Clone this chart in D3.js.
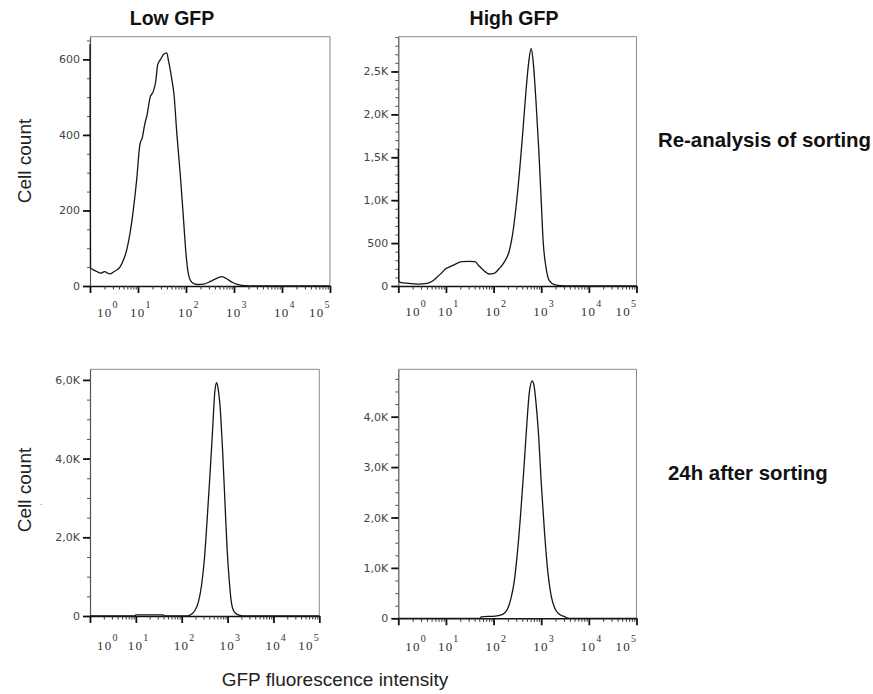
<!DOCTYPE html>
<html>
<head>
<meta charset="utf-8">
<script src="https://cdn.jsdelivr.net/npm/d3@7"></script>
<style>
  body { margin: 0; background: #fff; }
  svg { display: block; }
</style>
</head>
<body>
<svg id="chart"></svg>
<script>
// histogram data: [log10 GFP intensity, cell count]
var lowSorted = [
  [0, 640], [0.01, 48], [0.04, 45], [0.13, 39], [0.23, 34], [0.30, 38], [0.41, 32], [0.51, 39],
  [0.62, 49], [0.69, 67], [0.76, 93], [0.83, 137], [0.90, 199], [0.97, 278], [1.04, 375],
  [1.09, 393], [1.14, 428], [1.19, 454], [1.25, 498], [1.32, 516], [1.37, 542], [1.41, 586],
  [1.47, 600], [1.53, 613], [1.60, 617], [1.63, 600], [1.70, 551], [1.75, 507], [1.81, 402],
  [1.88, 296], [1.95, 173], [2.00, 85], [2.05, 32], [2.12, 10], [2.23, 4], [2.37, 5],
  [2.51, 12], [2.65, 21], [2.75, 25], [2.86, 18], [2.96, 10], [3.07, 4], [3.21, 1], [3.4, 0], [5, 0]
]
var highSorted = [
  [0, 1600], [0.01, 60], [0.04, 43], [0.21, 31], [0.42, 23], [0.60, 31], [0.71, 55], [0.81, 101],
  [0.92, 159], [0.99, 198], [1.09, 225], [1.20, 256], [1.34, 283], [1.48, 287], [1.61, 283],
  [1.69, 236], [1.80, 178], [1.90, 140], [2.01, 147], [2.11, 198], [2.22, 276], [2.33, 411],
  [2.40, 605], [2.47, 915], [2.54, 1303], [2.61, 1768], [2.68, 2271], [2.74, 2620], [2.79, 2768],
  [2.83, 2620], [2.89, 2155], [2.95, 1574], [3.00, 992], [3.04, 527], [3.10, 217], [3.17, 62],
  [3.28, 15], [3.42, 3], [3.6, 0], [5, 0]
]
var low24h = [
  [0, 0], [0.98, 0], [1.0, 30], [1.6, 30], [1.62, 0], [2.1, 0], [2.17, 17], [2.28, 127], [2.36, 338],
  [2.43, 762], [2.50, 1525], [2.55, 2371], [2.61, 3473], [2.67, 4658], [2.72, 5674], [2.76, 5928],
  [2.79, 5801], [2.83, 5420], [2.89, 4236], [2.94, 2965], [2.99, 1695], [3.04, 846], [3.09, 297],
  [3.16, 84], [3.27, 17], [3.38, 0], [5, 0]
]
var high24h = [
  [0, 0], [1.72, 0], [1.74, 30], [2.04, 45], [2.19, 79], [2.29, 178], [2.36, 377], [2.43, 706],
  [2.50, 1302], [2.57, 2095], [2.64, 3022], [2.70, 3881], [2.75, 4476], [2.81, 4708], [2.85, 4609],
  [2.89, 4278], [2.95, 3551], [3.00, 2690], [3.07, 1698], [3.14, 905], [3.21, 442], [3.28, 210],
  [3.38, 79], [3.49, 32], [3.59, 0], [5, 0]
]

// axis ticks
var xExponents = [0, 1, 2, 3, 4, 5]
var lowSortedTicks = [0, 200, 400, 600]
var lowSortedLabels = ['0', '200', '400', '600']
var highSortedTicks = [0, 500, 1000, 1500, 2000, 2500]
var highSortedLabels = ['0', '500', '1,0K', '1,5K', '2,0K', '2,5K']
var low24hTicks = [0, 2000, 4000, 6000]
var low24hLabels = ['0', '2,0K', '4,0K', '6,0K']
var high24hTicks = [0, 1000, 2000, 3000, 4000]
var high24hLabels = ['0', '1,0K', '2,0K', '3,0K', '4,0K']

var columnTitles = ['Low GFP', 'High GFP']
var rowTitles = ['Re-analysis of sorting', '24h after sorting']

var svg = d3.select('#chart').attr('width', 873).attr('height', 694)

// panel boxes
var panels = [
  {data: lowSorted, yMax: 660, ticks: lowSortedTicks, labels: lowSortedLabels, minor: 50,
    left: 90, right: 330, top: 36.7, bottom: 286, labelDy: 30.5},
  {data: highSorted, yMax: 2905, ticks: highSortedTicks, labels: highSortedLabels, minor: 100,
    left: 398.3, right: 636.5, top: 36.7, bottom: 286, labelDy: 30},
  {data: low24h, yMax: 6270, ticks: low24hTicks, labels: low24hLabels, minor: 500,
    left: 90, right: 319.3, top: 369.3, bottom: 616, labelDy: 33.5},
  {data: high24h, yMax: 4940, ticks: high24hTicks, labels: high24hLabels, minor: 250,
    left: 398.3, right: 636.5, top: 369.3, bottom: 618.3, labelDy: 33}
]

panels.forEach(function(p) {
  var x = d3.scaleLog().domain([1, 1e5]).range([p.left, p.right])
  var y = d3.scaleLinear().domain([0, p.yMax]).range([p.bottom, p.top])
  var g = svg.append('g')

  // top and right frame
  g.append('path')
    .attr('d', 'M' + p.left + ',' + p.top + 'H' + p.right + 'V' + p.bottom)
    .attr('fill', 'none')
    .attr('stroke', '#8a8a8a')
    .attr('stroke-width', 1)

  // y axis minor + major
  var minorVals = d3.range(0, p.yMax, p.minor)
  g.append('g')
    .attr('transform', 'translate(' + p.left + ',0)')
    .call(d3.axisLeft(y).tickValues(minorVals).tickSize(3).tickSizeOuter(0).tickFormat(''))
    .call(function(a) {
      a.select('.domain').attr('stroke', '#555').attr('stroke-width', 1.2)
      a.selectAll('.tick line').attr('stroke', '#555').attr('stroke-width', 1)
    })

  g.append('g')
    .attr('transform', 'translate(' + p.left + ',0)')
    .call(d3.axisLeft(y).tickValues(p.ticks).tickSize(7).tickSizeOuter(0)
      .tickFormat(function(d, i) { return p.labels[i] }))
    .call(function(a) {
      a.select('.domain').remove()
      a.selectAll('.tick line').attr('stroke', '#111').attr('stroke-width', 1.8)
      a.selectAll('.tick text')
        .attr('x', -10)
        .attr('font-family', 'DejaVu Sans, sans-serif')
        .attr('font-size', 11)
        .attr('fill', '#444')
    })

  // x axis minor + major
  var minorX = []
  for (var k = 0; k < 5; k++) {
    for (var m = 2; m < 10; m++) minorX.push(m * Math.pow(10, k))
  }
  g.append('g')
    .attr('transform', 'translate(0,' + p.bottom + ')')
    .call(d3.axisBottom(x).tickValues(minorX).tickSize(3.5).tickSizeOuter(0).tickFormat(''))
    .call(function(a) {
      a.select('.domain').attr('stroke', '#111').attr('stroke-width', 1.6)
      a.selectAll('.tick line').attr('stroke', '#333').attr('stroke-width', 1)
    })

  var xMajor = g.append('g')
    .attr('transform', 'translate(0,' + p.bottom + ')')
    .call(d3.axisBottom(x).tickValues(xExponents.map(function(e) { return Math.pow(10, e) }))
      .tickSize(7).tickSizeOuter(0).tickFormat(''))
  xMajor.select('.domain').remove()
  xMajor.selectAll('.tick line').attr('stroke', '#111').attr('stroke-width', 1.8)

  // 10^n labels, kept inside the axis span at both ends
  xExponents.forEach(function(e, i) {
    var px = x(Math.pow(10, e)) - 8
    if (i === 0) px = p.left + 7
    if (i === xExponents.length - 1) px = p.right - 21
    var t = g.append('text')
      .attr('x', px)
      .attr('y', p.bottom + p.labelDy)
      .attr('font-family', 'Liberation Serif, serif')
      .attr('font-size', 13)
      .attr('letter-spacing', 1.2)
      .attr('fill', '#333')
    t.append('tspan').text('10')
    t.append('tspan').attr('dy', -9).attr('font-size', 10).text(e)
  })

  // histogram line, on top so the first-bin spike thickens the y axis
  var line = d3.line()
    .x(function(d) { return x(Math.pow(10, d[0])) })
    .y(function(d) { return y(d[1]) })
    .curve(d3.curveMonotoneX)

  g.append('path')
    .datum(p.data)
    .attr('d', line)
    .attr('fill', 'none')
    .attr('stroke', '#151515')
    .attr('stroke-width', 1.3)
    .attr('stroke-linejoin', 'round')
})

// titles
var sans = 'Liberation Sans, Arial, sans-serif'
svg.selectAll('.coltitle')
  .data(columnTitles)
  .enter().append('text')
  .attr('x', function(d, i) { return i === 0 ? 172 : 514 })
  .attr('y', 25)
  .attr('text-anchor', 'middle')
  .attr('font-family', sans)
  .attr('font-weight', 'bold')
  .attr('font-size', 19.5)
  .attr('fill', '#111')
  .text(function(d) { return d })

svg.selectAll('.rowtitle')
  .data(rowTitles)
  .enter().append('text')
  .attr('x', function(d, i) { return i === 0 ? 658 : 668 })
  .attr('y', function(d, i) { return i === 0 ? 147 : 480 })
  .attr('font-family', sans)
  .attr('font-weight', 'bold')
  .attr('font-size', 20.4)
  .attr('fill', '#111')
  .text(function(d) { return d })

// axis titles
;[161, 490].forEach(function(cy) {
  svg.append('text')
    .attr('transform', 'translate(31,' + cy + ') rotate(-90)')
    .attr('text-anchor', 'middle')
    .attr('font-family', sans)
    .attr('font-size', 19)
    .attr('fill', '#222')
    .text('Cell count')
})

svg.append('text')
  .attr('x', 41)
  .attr('y', 507)
  .attr('text-anchor', 'middle')
  .attr('font-family', sans)
  .attr('font-size', 9)
  .attr('fill', '#aaa')
  .text('-')

svg.append('text')
  .attr('x', 335)
  .attr('y', 686)
  .attr('text-anchor', 'middle')
  .attr('font-family', sans)
  .attr('font-size', 19)
  .attr('fill', '#222')
  .text('GFP fluorescence intensity')
</script>
</body>
</html>
